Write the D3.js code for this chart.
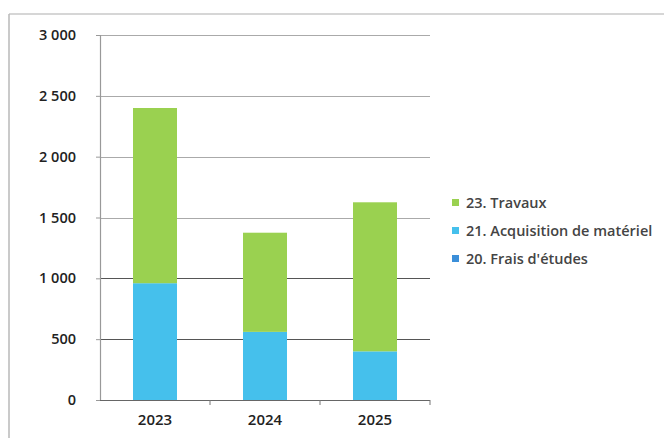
<!DOCTYPE html>
<html>
<head>
<meta charset="utf-8">
<script src="https://cdn.jsdelivr.net/npm/d3@7"></script>
<style>
  body { margin: 0; background: #fff; }
  svg { display: block; font-family: "Open Sans", sans-serif; }
</style>
</head>
<body>
<svg id="chart" width="664" height="438"></svg>
<script>
// chart data
var years = ["2023", "2024", "2025"];
var frais = [0, 0, 0];           // 20. Frais d'études
var acquisition = [960, 560, 400]; // 21. Acquisition de matériel
var travaux = [1440, 815, 1225];   // 23. Travaux
var yTicks = [0, 500, 1000, 1500, 2000, 2500, 3000];
var seriesNames = ["20. Frais d'études", "21. Acquisition de matériel", "23. Travaux"];
var seriesColors = ["#3b8fd9", "#45c0ec", "#9ad150"];

var svg = d3.select("#chart"),
    margin = {top: 35, left: 100},
    width = 330,
    height = 365;

// frame (only top and left edges show in the scan)
svg.append("line").attr("x1", 9).attr("x2", 664).attr("y1", 14).attr("y2", 14)
    .attr("stroke", "#c8c8c8").attr("stroke-width", 1.5);
svg.append("line").attr("x1", 9).attr("x2", 9).attr("y1", 14).attr("y2", 438)
    .attr("stroke", "#b8b8b8").attr("stroke-width", 1.5);

var g = svg.append("g")
    .attr("transform", "translate(" + margin.left + "," + margin.top + ")");

var x = d3.scaleBand().domain(years).range([0, width]).paddingInner(0.6).paddingOuter(0.3);
var y = d3.scaleLinear().domain([0, 3000]).range([height, 0]);

// grid
g.append("g")
    .selectAll("line")
    .data(yTicks)
    .join("line")
    .attr("x1", 0).attr("x2", width)
    .attr("y1", function(d) { return Math.round(y(d)) + 0.5; })
    .attr("y2", function(d) { return Math.round(y(d)) + 0.5; })
    .attr("stroke", function(d) { return d < 1500 ? "#555" : "#aaa"; })
    .attr("stroke-width", 1.2);

// stacked bars
var table = years.map(function(yr, i) {
    return {year: yr, "20. Frais d'études": frais[i], "21. Acquisition de matériel": acquisition[i], "23. Travaux": travaux[i]};
});
var stack = d3.stack().keys(seriesNames)(table);

g.selectAll("g.series")
    .data(stack)
    .join("g")
    .attr("class", "series")
    .attr("fill", function(d, i) { return seriesColors[i]; })
    .selectAll("rect")
    .data(function(d) { return d; })
    .join("rect")
    .attr("x", function(d) { return x(d.data.year); })
    .attr("width", x.bandwidth())
    .attr("y", function(d) { return y(d[1]); })
    .attr("height", function(d) { return y(d[0]) - y(d[1]); });

// y axis
var yAxis = d3.axisLeft(y)
    .tickValues(yTicks)
    .tickSize(4)
    .tickPadding(20)
    .tickFormat(function(d) { return d3.format(",")(d).replace(",", " "); });
var ya = g.append("g").call(yAxis);
ya.select(".domain").attr("stroke", "#999").attr("stroke-width", 1.2);
ya.selectAll(".tick line").attr("stroke", "#999");
ya.selectAll("text").attr("fill", "#222").attr("font-size", 14.5).attr("font-weight", 600)
    .attr("font-family", "Open Sans, sans-serif");

// x axis with ticks at category boundaries
var xa = g.append("g").attr("transform", "translate(0," + height + ")");
xa.append("line").attr("x1", 0).attr("x2", width).attr("y1", 0.5).attr("y2", 0.5)
    .attr("stroke", "#666").attr("stroke-width", 1.2);
xa.selectAll("line.tick")
    .data(years)
    .join("line")
    .attr("class", "tick")
    .attr("x1", function(d) { return x(d) + x.bandwidth() / 2 + x.step() / 2; })
    .attr("x2", function(d) { return x(d) + x.bandwidth() / 2 + x.step() / 2; })
    .attr("y1", 0).attr("y2", 5)
    .attr("stroke", "#777");
xa.selectAll("text")
    .data(years)
    .join("text")
    .attr("x", function(d) { return x(d) + x.bandwidth() / 2; })
    .attr("y", 25)
    .attr("text-anchor", "middle")
    .attr("fill", "#222")
    .attr("font-size", 15)
    .attr("font-weight", 600)
    .text(function(d) { return d; });

// legend
var legendOrder = [2, 1, 0];
var legend = svg.append("g").attr("transform", "translate(452,203)");
var items = legend.selectAll("g")
    .data(legendOrder)
    .join("g")
    .attr("transform", function(d, i) { return "translate(0," + (i * 28) + ")"; });
items.append("rect")
    .attr("x", 0).attr("y", -4).attr("width", 7).attr("height", 7)
    .attr("fill", function(d) { return seriesColors[d]; });
items.append("text")
    .attr("x", 14).attr("y", 0).attr("dy", "0.35em")
    .attr("fill", "#444")
    .attr("font-size", 14.5)
    .attr("font-weight", 600)
    .text(function(d) { return seriesNames[d]; });
</script>
</body>
</html>
